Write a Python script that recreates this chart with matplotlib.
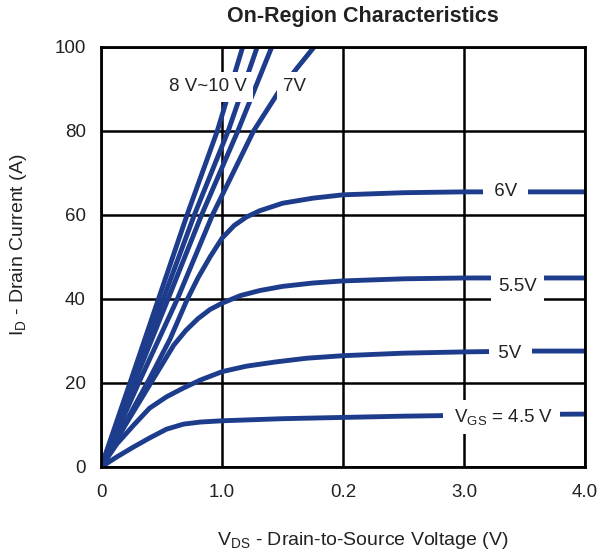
import matplotlib
matplotlib.use("Agg")
import matplotlib.pyplot as plt

plt.rcParams['font.family'] = ['Liberation Sans', 'DejaVu Sans']
plt.rcParams['mathtext.fontset'] = 'custom'
plt.rcParams['mathtext.rm'] = 'Liberation Sans'

# ---- data ----
x_ticks = [0, 1, 2, 3, 4]
x_tick_labels = ['0', '1.0', '0.2', '3.0', '4.0']
y_ticks = [0, 20, 40, 60, 80, 100]

vds_45 = [0, 0.13, 0.27, 0.40, 0.54, 0.68, 0.82, 1.0, 1.5, 2.0, 2.5, 3.0, 3.5, 4.0]
id_45 = [0, 2.4, 4.8, 6.9, 9.0, 10.2, 10.7, 11.0, 11.5, 11.8, 12.1, 12.3, 12.5, 12.6]

vds_50 = [0, 0.13, 0.27, 0.40, 0.54, 0.68, 0.82, 1.0, 1.2, 1.44, 1.7, 2.0, 2.5, 3.0, 3.5, 4.0]
id_50 = [0, 5.5, 10.0, 14.0, 16.7, 18.8, 20.7, 22.7, 24.0, 25.0, 25.9, 26.5, 27.1, 27.4, 27.6, 27.6]

vds_55 = [0, 0.2, 0.4, 0.6, 0.7, 0.8, 0.9, 1.0, 1.15, 1.31, 1.5, 1.75, 2.0, 2.5, 3.0, 3.5, 4.0]
id_55 = [0, 10.0, 19.5, 29.0, 32.5, 35.3, 37.5, 39.0, 40.8, 42.0, 43.0, 43.8, 44.3, 44.8, 45.0, 45.0, 45.0]

vds_60 = [0, 0.2, 0.4, 0.57, 0.71, 0.8, 0.9, 1.0, 1.1, 1.2, 1.31, 1.5, 1.75, 2.0, 2.5, 3.0, 3.5, 4.0]
id_60 = [0, 10.5, 21.0, 30.5, 39.8, 45.0, 50.0, 54.5, 57.5, 59.5, 61.0, 62.8, 64.0, 64.8, 65.3, 65.5, 65.5, 65.5]

vds_70 = [0, 0.31, 0.63, 0.92, 1.26, 1.46, 1.62, 1.76]
id_70 = [0, 20, 40, 60, 80, 89, 95, 100]

vds_80 = [0, 0.28, 0.56, 0.83, 1.13, 1.41]
id_80 = [0, 20.5, 40.5, 60, 80, 100]

vds_90 = [0, 0.26, 0.52, 0.77, 1.05, 1.29]
id_90 = [0, 20.5, 40.5, 60, 80, 100]

vds_100 = [0, 0.25, 0.48, 0.71, 0.96, 1.17]
id_100 = [0, 21, 40.5, 60, 80, 100]

curves = [
    (vds_45, id_45), (vds_50, id_50), (vds_55, id_55), (vds_60, id_60),
    (vds_70, id_70), (vds_80, id_80), (vds_90, id_90), (vds_100, id_100),
]

# ---- figure ----
fig = plt.figure(figsize=(6.02, 5.59), dpi=100)
ax = fig.add_axes([0.168, 0.1646, 0.804, 0.7514])

line_color = '#1d3c8c'
for xs, ys in curves:
    ax.plot(xs, ys, color=line_color, lw=3.5, solid_capstyle='butt',
            solid_joinstyle='round', zorder=3)

ax.set_xlim(0, 4)
ax.set_ylim(0, 100)
ax.set_xticks(x_ticks)
ax.set_xticklabels(x_tick_labels)
ax.set_yticks(y_ticks)
ax.tick_params(length=0, labelsize=13.5, colors='#222222')
ax.tick_params(axis='x', pad=12)
ax.tick_params(axis='y', pad=11)

ax.grid(True, color='black', lw=1.8, zorder=1)
ax.set_axisbelow(True)
for sp in ax.spines.values():
    sp.set_linewidth(2.0)
    sp.set_color('black')
    sp.set_zorder(5)

ax.set_title('On-Region Characteristics', fontsize=15.5, fontweight='bold',
             color='#222222', pad=18, x=0.54)
ax.set_xlabel(r'$\mathregular{V_{DS}}$ - Drain-to-Source Voltage (V)',
              fontsize=14, color='#222222', labelpad=21, x=0.54)
ax.set_ylabel(r'$\mathregular{I_{D}}$ - Drain Current (A)',
              fontsize=14, color='#222222', labelpad=18, y=0.53)


def label(x, y, s, pad):
    ax.text(x, y, s, fontsize=13.5, color='#222222', ha='center', va='center',
            zorder=4, bbox=dict(boxstyle='square,pad=%s' % pad, fc='white', ec='none'))


label(0.88, 90.5, '8 V~10 V', 0.35)
label(1.60, 90.5, '7V', 0.35)
label(3.34, 65.5, ' 6V ', 0.3)
label(3.44, 43.0, '5.5V', 0.4)
label(3.38, 27.1, ' 5V ', 0.25)
label(3.31, 11.9, r' $\mathregular{V_{GS}}$ = 4.5 V ', 0.35)

fig.savefig('out.png', dpi=100, facecolor='white')
